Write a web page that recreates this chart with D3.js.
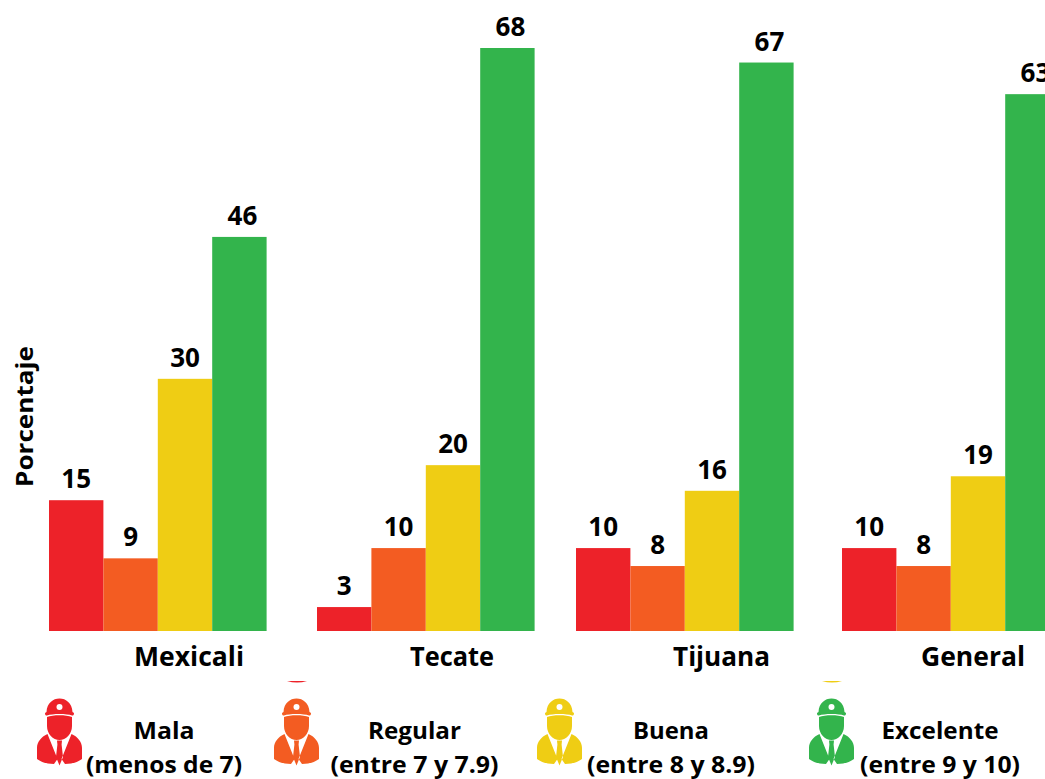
<!DOCTYPE html>
<html><head><meta charset="utf-8">
<script src="https://cdnjs.cloudflare.com/ajax/libs/d3/7.8.5/d3.min.js"></script>
<style>html,body{margin:0;padding:0;background:#fff;overflow:hidden}svg{display:block}
text{font-family:"Open Sans","Noto Sans",sans-serif;font-weight:700;fill:#000}</style>
</head><body><svg id="c" width="1045" height="779"></svg>
<script>
const categories = ["Mexicali","Tecate","Tijuana","General"];
const seriesNames = ["Mala","Regular","Buena","Excelente"];
const seriesRanges = ["(menos de 7)","(entre 7 y 7.9)","(entre 8 y 8.9)","(entre 9 y 10)"];
const seriesColors = ["#ed2229","#f35c22","#efcd14","#33b44c"];
const mala = [15.3,2.8,9.7,9.7];
const regular = [8.5,9.7,7.6,7.6];
const buena = [29.5,19.4,16.4,18.1];
const excelente = [46.1,68.2,66.5,62.8];
const malaLabels = [15,3,10,10];
const regularLabels = [9,10,8,8];
const buenaLabels = [30,20,16,19];
const excelenteLabels = [46,68,67,63];
const seriesValues = [mala,regular,buena,excelente];
const seriesLabels = [malaLabels,regularLabels,buenaLabels,excelenteLabels];

const svg = d3.select("#c");
const y = d3.scaleLinear().domain([0,68.2]).range([631,48]);
const groupStart = d3.scaleOrdinal().domain(categories).range([49,317,576,842]);
const barW = 54.4;
const inner = d3.scaleBand().domain(seriesNames).range([0,barW*4]);
const catCenter = d3.scaleOrdinal().domain(categories).range([189,452,721.5,973]);
const catWidth = d3.scaleOrdinal().domain(categories).range([110,84,97,104]);

seriesNames.forEach((s,si)=>{
  const rows = categories.map((c,i)=>({c,v:seriesValues[si][i],l:seriesLabels[si][i]}));
  svg.append("g").selectAll("rect").data(rows).join("rect")
    .attr("x",d=>groupStart(d.c)+inner(s)).attr("width",inner.bandwidth())
    .attr("y",d=>y(d.v)).attr("height",d=>y(0)-y(d.v)).attr("fill",seriesColors[si]);
  svg.append("g").selectAll("text").data(rows).join("text")
    .attr("x",d=>groupStart(d.c)+inner(s)+inner.bandwidth()/2+(si===3?3:-0))
    .attr("y",d=>y(d.v)-12).attr("text-anchor","middle").attr("font-size",26)
    .text(d=>d.l);
});

svg.append("g").selectAll("text").data(categories).join("text")
  .attr("x",catCenter).attr("y",666).attr("text-anchor","middle").attr("font-size",26)
  .attr("textLength",catWidth).attr("lengthAdjust","spacingAndGlyphs").text(d=>d);

svg.append("text").attr("transform","translate(33,416.5) rotate(-90)")
  .attr("text-anchor","middle").attr("font-size",24)
  .attr("textLength",141).attr("lengthAdjust","spacingAndGlyphs").text("Porcentaje");

// legend
const iconX = d3.scaleOrdinal().domain(seriesNames).range([37,274,537,809]);
const legendCenter = d3.scaleOrdinal().domain(seriesNames).range([164,414.5,671,940]);
const nameWidth = d3.scaleOrdinal().domain(seriesNames).range([61,93,76,117]);
const rangeWidth = d3.scaleOrdinal().domain(seriesNames).range([156,168,168,160]);
const clipTopX = d3.scaleOrdinal().domain(["Regular","Buena"]).range([297,832]);
const clipColor = d3.scaleOrdinal().domain(["Regular","Buena"]).range([seriesColors[0],seriesColors[2]]);

const head = "M9.5 14 C10 5 16 0.5 22.5 0.5 C29 0.5 35 5 35.5 14 L37 15 C37 17 36.5 17.5 35 17.5 C30 15.5 15 15.5 10 17.5 C8.5 17.5 8 17 8 15 Z";
const face = "M10 19 C16 16.5 29 16.5 35 19 L35 28 C35 36 29 42 22.5 42 C16 42 10 36 10 28 Z";
const body = "M10.5 36 L20.5 61 L17 66 C10 66 4 64 0 61 L0 50 C0 44 4 39 10.5 36 Z M34.5 36 L24.5 61 L28 66 C35 66 41 64 45 61 L45 50 C45 44 41 39 34.5 36 Z M20 42.5 L25 42.5 L24.6 46.5 L26 59 L22.5 67.5 L19 59 L20.4 46.5 Z";
const g = svg.append("g").selectAll("g").data(seriesNames).join("g")
  .attr("transform",d=>`translate(${iconX(d)},698)`);
g.append("path").attr("d",head+" "+face+" "+body).attr("fill",(d,i)=>seriesColors[i]);
g.append("circle").attr("cx",22.5).attr("cy",9).attr("r",3).attr("fill","#fff");
g.append("path").attr("d","M20 42.5 L12 39 L22.5 67 L33 39 L25 42.5 Z").attr("fill","none");

svg.append("g").selectAll("text").data(seriesNames).join("text")
  .attr("x",legendCenter).attr("y",739).attr("text-anchor","middle").attr("font-size",23)
  .attr("textLength",nameWidth).attr("lengthAdjust","spacingAndGlyphs").text(d=>d);
svg.append("g").selectAll("text").data(seriesNames).join("text")
  .attr("x",legendCenter).attr("y",773).attr("text-anchor","middle").attr("font-size",23)
  .attr("textLength",rangeWidth).attr("lengthAdjust","spacingAndGlyphs").text((d,i)=>seriesRanges[i]);

// slivers of cropped icon tops above the legend
svg.append("g").selectAll("ellipse").data(clipTopX.domain()).join("path")
  .attr("d",d=>`M${clipTopX(d)-10} 681 Q${clipTopX(d)} 684 ${clipTopX(d)+10} 681 Z`)
  .attr("fill",clipColor);
</script></body></html>
